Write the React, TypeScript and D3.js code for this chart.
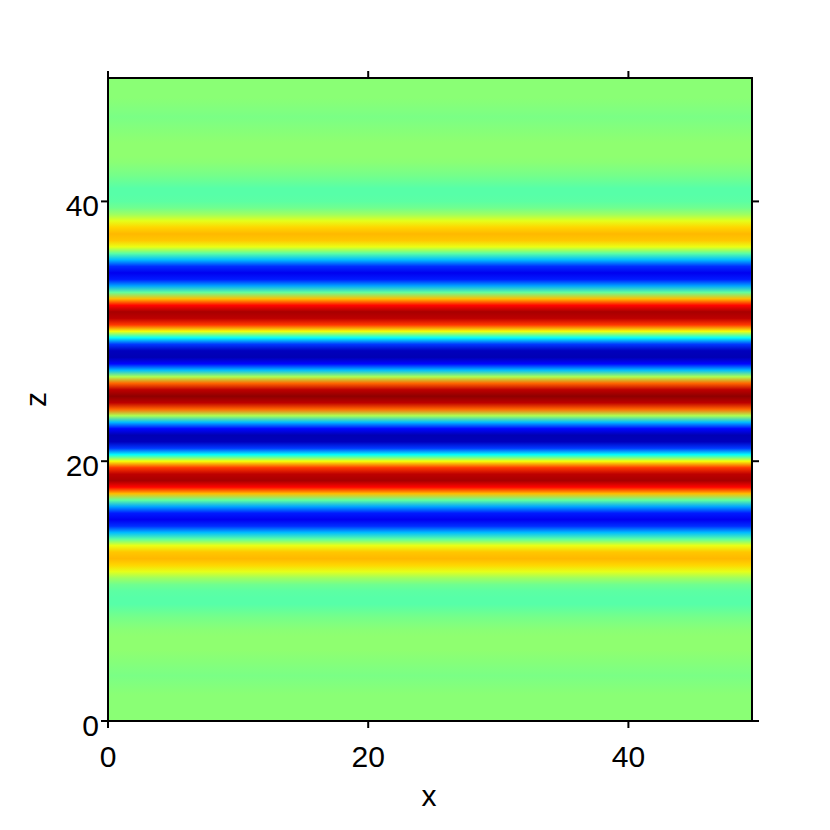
import React from "react";
import * as d3 from "d3";

// z sample positions (0 .. 50, step 0.5) and field values
const zValues: number[] = [
  0, 0.5, 1, 1.5, 2, 2.5, 3, 3.5, 4, 4.5, 5, 5.5, 6, 6.5, 7, 7.5, 8, 8.5, 9, 9.5,
  10, 10.5, 11, 11.5, 12, 12.5, 13, 13.5, 14, 14.5, 15, 15.5, 16, 16.5, 17, 17.5, 18, 18.5, 19, 19.5,
  20, 20.5, 21, 21.5, 22, 22.5, 23, 23.5, 24, 24.5, 25, 25.5, 26, 26.5, 27, 27.5, 28, 28.5, 29, 29.5,
  30, 30.5, 31, 31.5, 32, 32.5, 33, 33.5, 34, 34.5, 35, 35.5, 36, 36.5, 37, 37.5, 38, 38.5, 39, 39.5,
  40, 40.5, 41, 41.5, 42, 42.5, 43, 43.5, 44, 44.5, 45, 45.5, 46, 46.5, 47, 47.5, 48, 48.5, 49, 49.5, 50,
];

const fieldValues: number[] = [
  0.02, 0.02, 0.02, 0.02, 0.02, 0.01, 0.0, -0.01, 0.0, 0.01,
  0.02, 0.03, 0.03, 0.03, 0.02, 0.0, -0.02, -0.05, -0.08, -0.08,
  -0.07, -0.03, 0.06, 0.2, 0.33, 0.39, 0.36, 0.21, -0.07, -0.38,
  -0.66, -0.78, -0.7, -0.43, -0.06, 0.38, 0.74, 0.92, 0.88, 0.64,
  0.23, -0.24, -0.64, -0.88, -0.9, -0.74, -0.38, 0.09, 0.55, 0.88,
  0.97,
  0.88, 0.55, 0.09, -0.38, -0.74, -0.9, -0.88, -0.64, -0.24, 0.23,
  0.64, 0.88, 0.92, 0.74, 0.38, -0.06, -0.43, -0.7, -0.78, -0.66,
  -0.38, -0.07, 0.21, 0.36, 0.39, 0.33, 0.2, 0.06, -0.03, -0.07,
  -0.08, -0.08, -0.05, -0.02, 0.0, 0.02, 0.03, 0.03, 0.03, 0.02,
  0.01, 0.0, -0.01, 0.0, 0.01, 0.02, 0.02, 0.02, 0.02, 0.02,
];

const xTicks: number[] = [0, 20, 40];
const zTicks: number[] = [0, 20, 40];
const xDomain: [number, number] = [0, 49.5];
const zDomain: [number, number] = [0, 49.5];
const valueDomain: [number, number] = [-1, 1];

function jet(t: number): string {
  const c = (v: number) => Math.max(0, Math.min(1, v));
  const r = c(1.5 - Math.abs(4 * t - 3));
  const g = c(1.5 - Math.abs(4 * t - 2));
  const b = c(1.5 - Math.abs(4 * t - 1));
  return d3.rgb(r * 255, g * 255, b * 255).formatHex();
}

export default function App() {
  const left = 108;
  const right = 752;
  const top = 78;
  const bottom = 721;
  const x = d3.scaleLinear().domain(xDomain).range([left, right]);
  const y = d3.scaleLinear().domain(zDomain).range([bottom, top]);
  const tNorm = d3.scaleLinear().domain(valueDomain).range([0, 1]).clamp(true);

  const zMin = zValues[0];
  const zMax = zValues[zValues.length - 1];
  const font = "'Liberation Sans', Arial, sans-serif";
  const tickLen = 7;
  const fs = 30;

  return (
    <svg
      width={830}
      height={830}
      style={{ position: "absolute", left: 0, top: 0, background: "#fff" }}
    >
      <defs>
        <linearGradient
          id="field"
          gradientUnits="userSpaceOnUse"
          x1={0}
          x2={0}
          y1={y(zMin)}
          y2={y(zMax)}
        >
          {zValues.map((z, i) => (
            <stop
              key={i}
              offset={(z - zMin) / (zMax - zMin)}
              stopColor={jet(tNorm(fieldValues[i]))}
            />
          ))}
        </linearGradient>
      </defs>
      <rect x={left} y={top} width={right - left} height={bottom - top} fill="url(#field)" />
      <rect
        x={left}
        y={top}
        width={right - left}
        height={bottom - top}
        fill="none"
        stroke="#000"
        strokeWidth={2}
      />
      {xTicks.map((t) => (
        <g key={"xt" + t}>
          <line x1={x(t)} x2={x(t)} y1={bottom} y2={bottom + tickLen} stroke="#000" strokeWidth={2} />
          <line x1={x(t)} x2={x(t)} y1={top} y2={top - tickLen} stroke="#000" strokeWidth={2} />
          <text
            x={x(t)}
            y={bottom + 46}
            textAnchor="middle"
            fontFamily={font}
            fontSize={fs}
            fill="#000"
          >
            {t}
          </text>
        </g>
      ))}
      {zTicks.map((t) => (
        <g key={"zt" + t}>
          <line x1={left} x2={left - tickLen} y1={y(t)} y2={y(t)} stroke="#000" strokeWidth={2} />
          <line x1={right} x2={right + tickLen} y1={y(t)} y2={y(t)} stroke="#000" strokeWidth={2} />
          <text
            x={left - 9}
            y={y(t) + 15}
            textAnchor="end"
            fontFamily={font}
            fontSize={fs}
            fill="#000"
          >
            {t}
          </text>
        </g>
      ))}
      <text x={429} y={806} textAnchor="middle" fontFamily={font} fontSize={fs} fill="#000">
        x
      </text>
      <text
        transform={`translate(46, ${(top + bottom) / 2}) rotate(-90)`}
        textAnchor="middle"
        fontFamily={font}
        fontSize={fs}
        fill="#000"
      >
        z
      </text>
    </svg>
  );
}
